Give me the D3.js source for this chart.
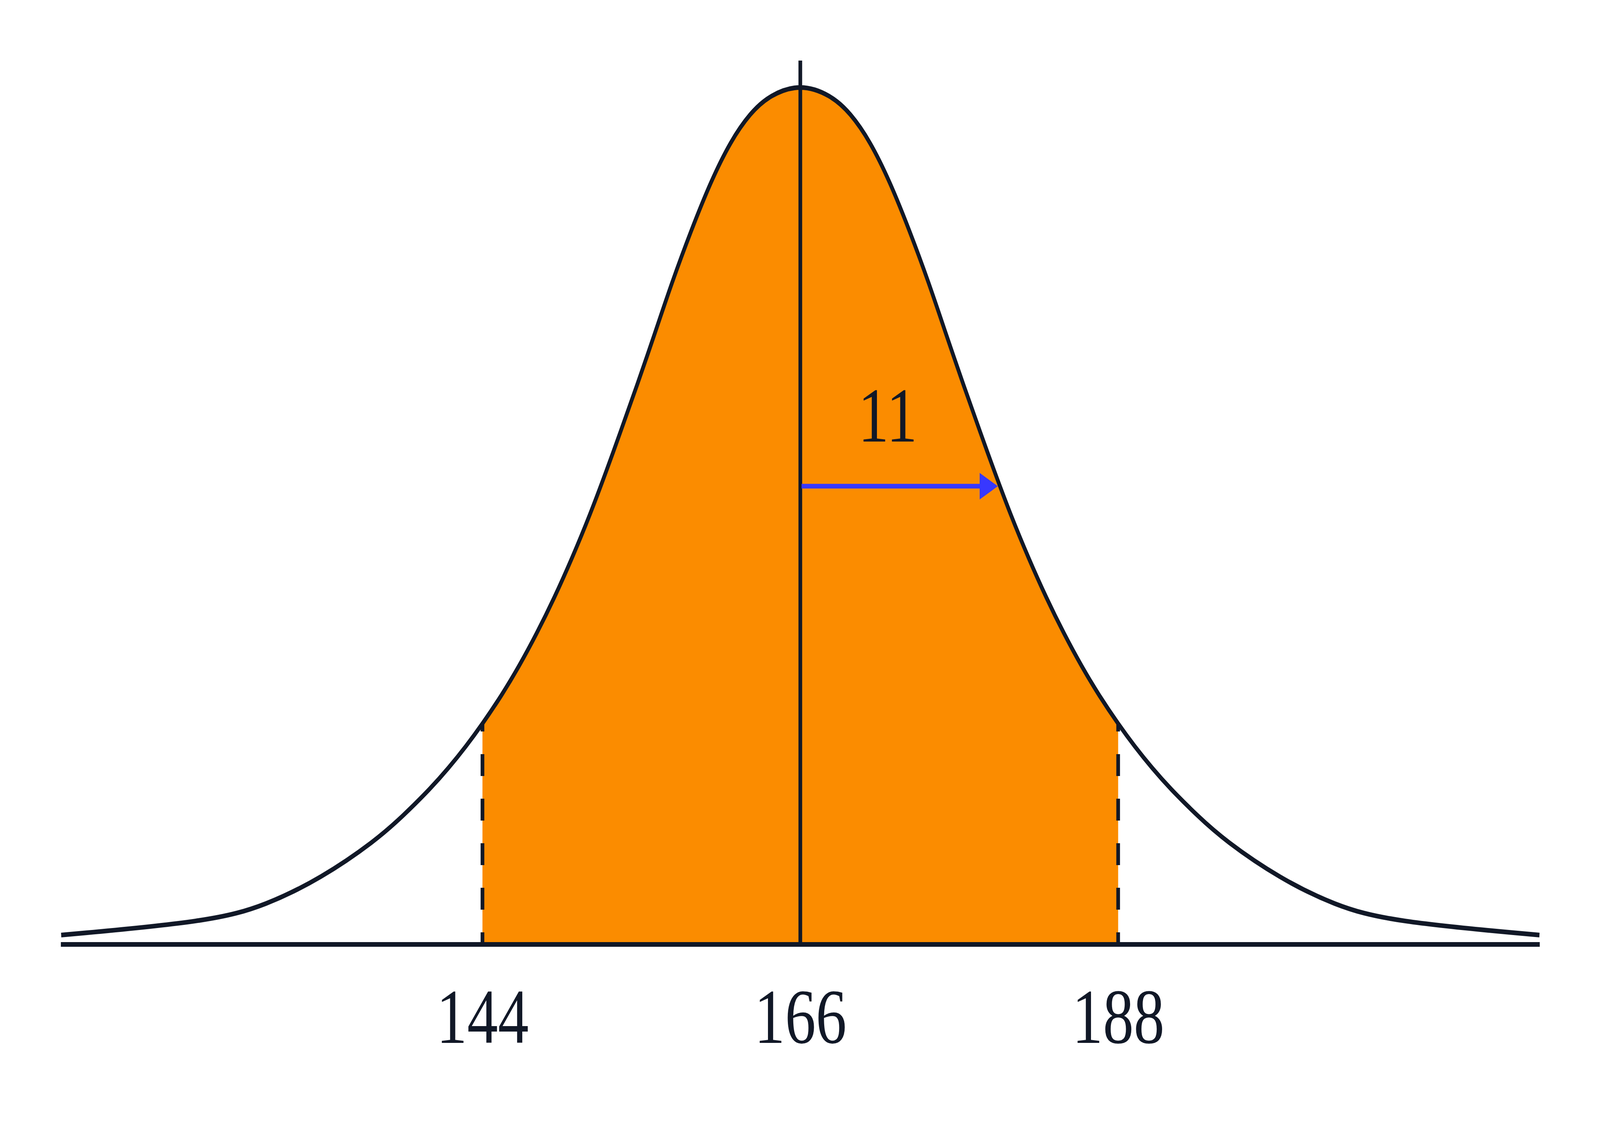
<!DOCTYPE html>
<html>
<head>
<meta charset="utf-8">
<script src="https://cdn.jsdelivr.net/npm/d3@7"></script>
<style>
  html, body { margin: 0; padding: 0; background: #fff; overflow: hidden; }
  svg { display: block; }
</style>
</head>
<body>
<script>
// bell curve: x in cm, y as height relative to the peak
var curveX = [114.84, 125.21, 129.0, 132.82, 136.61, 138.52, 140.42, 141.63, 142.87, 143.96,
              145.32, 146.53, 147.75, 148.98, 150.2, 151.43, 152.65, 153.48, 154.71, 155.93,
              157.1, 158.44, 159.8, 161.17, 162.53, 163.89, 166,
              168.11, 169.47, 170.83, 172.2, 173.56, 174.9, 176.07, 177.29, 178.52,
              179.35, 180.57, 181.8, 183.02, 184.25, 185.47, 186.68, 188.04, 189.13,
              190.37, 191.58, 193.48, 195.39, 199.18, 203.0, 206.79, 217.16];
var curveY = [0.0109, 0.0268, 0.0455, 0.077, 0.121, 0.150, 0.182, 0.205, 0.231, 0.256,
              0.290, 0.324, 0.362, 0.404, 0.450, 0.500, 0.555, 0.594, 0.652, 0.712,
              0.771, 0.832, 0.889, 0.936, 0.969, 0.990, 1.003,
              0.990, 0.969, 0.936, 0.889, 0.832, 0.771, 0.712, 0.652, 0.594,
              0.555, 0.500, 0.450, 0.404, 0.362, 0.324, 0.290, 0.256, 0.231,
              0.205, 0.182, 0.150, 0.121, 0.077, 0.0455, 0.0268, 0.0109];

var mean = 166;
var sd = 11;
var bounds = [144, 188];
var tickValues = [144, 166, 188];
var arrowEnd = 179.67;     // where the sd arrow meets the curve
var arrowLevel = 0.534;
var meanLineTop = 1.03;

// drawn in the reference's own 5200 x 2874 frame, stretched to the window
var width = 5200, height = 2874;
var dark = "#111827", orange = "#fb8c00", blue = "#3838ff";
var serif = "'Liberation Serif', 'DejaVu Serif', serif";

var svg = d3.select("body").append("svg")
  .attr("width", window.innerWidth)
  .attr("height", window.innerHeight)
  .attr("viewBox", "0 0 " + width + " " + height)
  .attr("preserveAspectRatio", "none");

var x = d3.scaleLinear().domain([144, 188]).range([1568, 3634]);
var y = d3.scaleLinear().domain([0, 1]).range([2417, 221]);

var pts = curveX.map(function(d, i) { return [d, curveY[i]]; });

// shaded band between the bounds
svg.append("clipPath").attr("id", "band")
  .append("rect")
    .attr("x", x(bounds[0]))
    .attr("y", 0)
    .attr("width", x(bounds[1]) - x(bounds[0]))
    .attr("height", height);

var area = d3.area()
  .x(function(d) { return x(d[0]); })
  .y0(y(0))
  .y1(function(d) { return y(d[1]); })
  .curve(d3.curveBasis);

svg.append("path")
  .datum(pts)
  .attr("d", area)
  .attr("fill", orange)
  .attr("clip-path", "url(#band)");

// curve height at a given x, from the read points
function heightAt(v) {
  var i = d3.bisector(function(d) { return d[0]; }).left(pts, v);
  var a = pts[i - 1], b = pts[i];
  return a[1] + (b[1] - a[1]) * (v - a[0]) / (b[0] - a[0]);
}

svg.selectAll("line.bound")
  .data(bounds)
  .enter().append("line")
    .attr("class", "bound")
    .attr("x1", function(d) { return x(d); })
    .attr("x2", function(d) { return x(d); })
    .attr("y1", y(0))
    .attr("y2", function(d) { return y(heightAt(d)); })
    .attr("stroke", dark)
    .attr("stroke-width", 12)
    .attr("stroke-dasharray", "56,58")
    .attr("stroke-dashoffset", 25);

// mean line
svg.append("line")
  .attr("x1", x(mean)).attr("x2", x(mean))
  .attr("y1", y(0)).attr("y2", y(meanLineTop))
  .attr("stroke", dark)
  .attr("stroke-width", 12);

var line = d3.line()
  .x(function(d) { return x(d[0]); })
  .y(function(d) { return y(d[1]); })
  .curve(d3.curveBasis);

svg.append("path")
  .datum(pts)
  .attr("d", line)
  .attr("fill", "none")
  .attr("stroke", dark)
  .attr("stroke-width", 12);

// baseline
svg.append("line")
  .attr("x1", x(curveX[0]) - 1).attr("x2", x(curveX[curveX.length - 1]) + 1)
  .attr("y1", y(0)).attr("y2", y(0))
  .attr("stroke", dark)
  .attr("stroke-width", 12);

// sd arrow
var ay = y(arrowLevel), tip = x(arrowEnd);
svg.append("line")
  .attr("x1", x(mean) + 4).attr("x2", tip - 58)
  .attr("y1", ay).attr("y2", ay)
  .attr("stroke", blue)
  .attr("stroke-width", 12);
svg.append("polygon")
  .attr("points", [[tip, ay], [tip - 59, ay - 34], [tip - 59, ay + 34]].join(" "))
  .attr("fill", blue);

svg.append("text")
  .attr("x", x(mean + sd / 2 + 0.55))
  .attr("y", 1130)
  .attr("text-anchor", "middle")
  .attr("font-family", serif)
  .attr("font-size", 200)
  .attr("fill", dark)
  .text(sd);

// tick labels
var axis = d3.axisBottom(x).tickValues(tickValues).tickSize(0).tickFormat(d3.format("d"));
var gx = svg.append("g")
  .attr("transform", "translate(0," + y(0) + ")")
  .call(axis);
gx.select(".domain").remove();
gx.selectAll("text")
  .attr("y", 252)
  .attr("dy", null)
  .attr("font-family", serif)
  .attr("font-size", 200)
  .attr("fill", dark);
</script>
</body>
</html>
